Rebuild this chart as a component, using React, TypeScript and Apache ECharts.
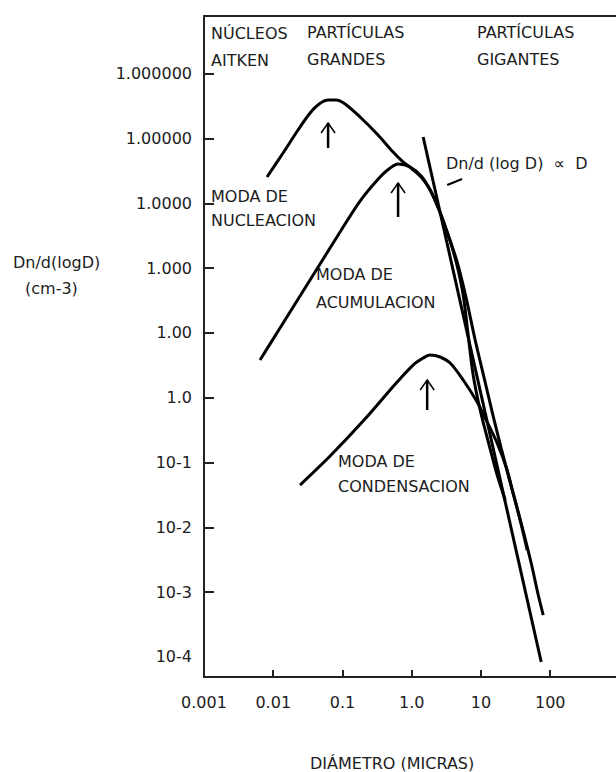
import React, { useEffect, useRef } from "react";
import * as echarts from "echarts";

// Axis decades (log10 values) and their printed labels
const xTickExp = [-3, -2, -1, 0, 1, 2];
const xTickLabels = ["0.001", "0.01", "0.1", "1.0", "10", "100"];
const yTickExp = [5, 4, 3, 2, 1, 0, -1, -2, -3, -4];
const yTickLabels = ["1.000000", "1.00000", "1.0000", "1.000", "1.00", "1.0", "10-1", "10-2", "10-3", "10-4"];

// Moda de nucleación: log10 D (µm) and log10 Dn/d(logD)
const nucLogD = [-2.09, -1.858, -1.642, -1.468, -1.338, -1.208, -1.092, -0.962, -0.746, -0.5, -0.269, -0.139, 0.006, 0.136, 0.266, 0.396, 0.526, 0.642, 0.743, 0.815, 0.887, 0.988, 1.118, 1.234, 1.35];
const nucLogN = [3.405, 3.776, 4.131, 4.393, 4.532, 4.594, 4.594, 4.532, 4.331, 4.069, 3.791, 3.652, 3.529, 3.405, 3.205, 2.896, 2.51, 2.094, 1.584, 0.967, 0.35, -0.19, -0.73, -1.193, -1.579];

// Moda de acumulación
const accLogD = [-2.191, -1.902, -1.613, -1.324, -1.035, -0.746, -0.457, -0.312, -0.197, -0.023, 0.136, 0.266, 0.396, 0.526, 0.656, 0.786, 0.916, 1.046, 1.176, 1.306, 1.451, 1.595, 1.725, 1.827, 1.899];
const accLogN = [0.581, 1.075, 1.569, 2.063, 2.557, 3.035, 3.405, 3.544, 3.606, 3.56, 3.421, 3.205, 2.896, 2.51, 2.094, 1.538, 0.89, 0.304, -0.283, -0.838, -1.425, -1.996, -2.551, -3.045, -3.354];

// Moda de condensación
const conLogD = [-1.613, -1.179, -0.702, -0.211, 0.02, 0.165, 0.266, 0.41, 0.555, 0.743, 0.945, 1.075, 1.234, 1.364, 1.465, 1.566, 1.668];
const conLogN = [-1.348, -0.9, -0.36, 0.242, 0.504, 0.612, 0.659, 0.628, 0.535, 0.273, -0.067, -0.345, -0.7, -1.07, -1.471, -1.888, -2.351];

// Recta Dn/d(log D) ∝ D
const powLogD = [0.165, 1.87];
const powLogN = [4.023, -4.079];

// Flechas de los máximos: [log D, log N punta, log N cola]
const arrowLogD = [-1.208, -0.197, 0.223];
const arrowTopLogN = [4.239, 3.313, 0.273];
const arrowBottomLogN = [3.853, 2.788, -0.19];

// Pequeña marca junto a la etiqueta de la recta
const leaderLogD = [0.512, 0.728];
const leaderLogN = [3.282, 3.375];

const FONT = "DejaVu Sans";
const TXT = "#1c1c1c";

const zip = (a: number[], b: number[]) => a.map((v, i) => [v, b[i]]);

export default function App() {
  const ref = useRef<HTMLDivElement>(null);
  useEffect(() => {
    if (!ref.current) return;
    const chart = echarts.init(ref.current, undefined, { renderer: "svg" });
    const curve = (name: string, d: number[], n: number[]) => ({
      name,
      type: "line",
      data: zip(d, n),
      showSymbol: false,
      smooth: 0.3,
      lineStyle: { color: "#000", width: 3 },
      silent: true,
    });
    const txt = (text: string, x: number, y: number, align = "left") => ({
      type: "text",
      x,
      y,
      style: {
        text,
        fill: TXT,
        font: `16px '${FONT}'`,
        align,
        verticalAlign: "middle",
        textAlign: align,
        textVerticalAlign: "middle",
      },
    });
    chart.setOption({
      animation: false,
      backgroundColor: "#fff",
      grid: { left: 204, right: 0, top: 16, bottom: 95, containLabel: false },
      xAxis: [
        {
          type: "value",
          min: -3,
          max: 2.95,
          axisLine: { show: true, onZero: false, lineStyle: { color: "#222", width: 2 } },
          axisTick: { show: true, inside: true, length: 7, customValues: [-2, -1, 0, 1, 2], lineStyle: { color: "#222", width: 2 } },
          axisLabel: {
            customValues: xTickExp,
            margin: 17,
            color: TXT,
            fontFamily: FONT,
            fontSize: 16,
            formatter: (v: number) => {
              const i = xTickExp.findIndex((e) => Math.abs(e - v) < 1e-6);
              return i >= 0 ? xTickLabels[i] : "";
            },
          },
          splitLine: { show: false },
        },
        {
          type: "value",
          position: "top",
          min: -3,
          max: 2.95,
          axisLine: { show: true, onZero: false, lineStyle: { color: "#222", width: 2 } },
          axisTick: { show: false },
          axisLabel: { show: false },
          splitLine: { show: false },
        },
      ],
      yAxis: {
        type: "value",
        min: -4.31,
        max: 5.89,
        axisLine: { show: true, onZero: false, lineStyle: { color: "#222", width: 2 } },
        axisTick: { show: true, inside: true, length: 10, customValues: [5, 4, 3, 2, 1, 0, -1, -2, -3], lineStyle: { color: "#222", width: 2 } },
        axisLabel: {
          customValues: yTickExp,
          margin: 12,
          color: TXT,
          fontFamily: FONT,
          fontSize: 16,
          formatter: (v: number) => {
            const i = yTickExp.findIndex((e) => Math.abs(e - v) < 1e-6);
            return i >= 0 ? yTickLabels[i] : "";
          },
        },
        splitLine: { show: false },
      },
      series: [
        curve("Moda de nucleación", nucLogD, nucLogN),
        curve("Moda de acumulación", accLogD, accLogN),
        curve("Moda de condensación", conLogD, conLogN),
        { ...curve("Dn/d(log D) ∝ D", powLogD, powLogN), smooth: false },
        { ...curve("marca", leaderLogD, leaderLogN), lineStyle: { color: "#000", width: 2 } },
        {
          type: "custom",
          name: "máximos",
          silent: true,
          clip: false,
          data: arrowLogD.map((d, i) => [d, arrowTopLogN[i], arrowBottomLogN[i]]),
          encode: { x: 0, y: [1, 2] },
          renderItem: (_p: any, api: any) => {
            const top = api.coord([api.value(0), api.value(1)]);
            const bot = api.coord([api.value(0), api.value(2)]);
            return {
              type: "group",
              children: [
                { type: "line", shape: { x1: top[0], y1: top[1], x2: bot[0], y2: bot[1] }, style: { stroke: "#000", lineWidth: 2.5 } },
                {
                  type: "polyline",
                  shape: { points: [[top[0] - 7, top[1] + 10], [top[0], top[1]], [top[0] + 7, top[1] + 10]] },
                  style: { stroke: "#000", fill: null, lineWidth: 1.5 },
                },
              ],
            };
          },
        },
      ],
      graphic: [
        txt("NÚCLEOS", 211, 33),
        txt("AITKEN", 211, 60),
        txt("PARTÍCULAS", 307, 32),
        txt("GRANDES", 307, 59),
        txt("PARTÍCULAS", 477, 32),
        txt("GIGANTES", 477, 59),
        txt("MODA DE", 211, 196),
        txt("NUCLEACION", 211, 220),
        txt("MODA DE", 316, 274),
        txt("ACUMULACION", 316, 302),
        txt("MODA DE", 338, 461),
        txt("CONDENSACION", 338, 486),
        txt("Dn/d (log D)  ∝  D", 446, 163),
        txt("Dn/d(logD)", 13, 262),
        txt("(cm-3)", 25, 288),
        txt("DIÁMETRO (MICRAS)", 310, 763),
      ],
    });
    return () => chart.dispose();
  }, []);
  return <div ref={ref} style={{ position: "fixed", left: 0, top: 0, width: 616, height: 772, background: "#fff" }} />;
}
